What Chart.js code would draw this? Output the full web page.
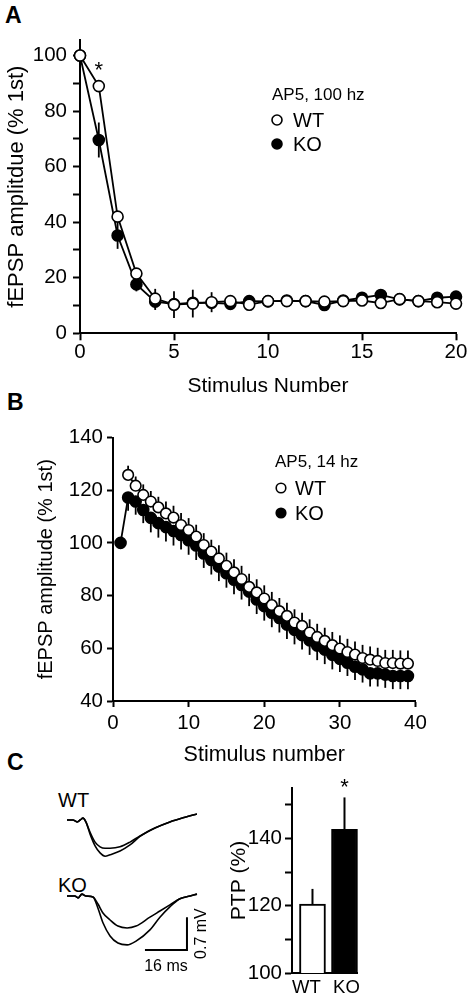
<!DOCTYPE html>
<html>
<head>
<meta charset="utf-8">
<script src="https://cdn.jsdelivr.net/npm/chart.js@4.4.1/dist/chart.umd.min.js"></script>
<style>
  body { margin: 0; background: #fff; width: 474px; height: 1000px; position: relative; overflow: hidden;
         font-family: 'Liberation Sans', Arial, sans-serif; }
  canvas { position: absolute; }
  .tag { position: absolute; font-weight: bold; font-size: 23px; line-height: 1; }
  .trace-lbl { position: absolute; font-size: 20px; line-height: 1; }
</style>
</head>
<body>
<div class="tag" style="left:5px;top:4px">A</div>
<div class="tag" style="left:7px;top:391px">B</div>
<div class="tag" style="left:7px;top:751px">C</div>
<div class="trace-lbl" style="left:58px;top:790px">WT</div>
<div class="trace-lbl" style="left:58px;top:875px">KO</div>

<canvas id="chartA" width="474" height="400" style="left:0;top:0"></canvas>
<canvas id="chartB" width="474" height="375" style="left:0;top:395px"></canvas>
<canvas id="traceWT" width="140" height="65" style="left:62px;top:800px"></canvas>
<canvas id="traceKO" width="155" height="105" style="left:62px;top:875px"></canvas>
<canvas id="chartC" width="140" height="230" style="left:225px;top:770px"></canvas>

<script>
// ---- panel A: AP5, 100 hz ----
const stimA = [0, 1, 2, 3, 4, 5, 6, 7, 8, 9, 10, 11, 12, 13, 14, 15, 16, 17, 18, 19, 20];
const wtA = [100, 89, 42, 21.5, 12.5, 10.3, 10.7, 11.2, 11.6, 10.3, 11.6, 11.6, 11.6, 11.4, 11.6, 11.8, 10.9, 12.3, 11.6, 11.2, 10.7];
const wtErrA = [0, 1.5, 1.5, 2, 3.5, 4.8, 5, 3.6, 2.2, 1.5, 1.5, 1.8, 1.3, 1, 1.3, 1.5, 1.5, 1.5, 1, 1.3, 1.5];
const koA = [100, 69.6, 35.2, 17.6, 11.4, 10.5, 11, 11, 10.6, 11.6, 11.5, 11.8, 11.6, 10.2, 11.8, 12.8, 13.8, 12.2, 11.6, 12.8, 13.2];
const koErrA = [0, 6.3, 4.8, 2.5, 3, 2, 2, 2, 2, 1.5, 1.5, 1.5, 1.5, 1, 1.5, 1.5, 1.5, 1.5, 1, 1.5, 1.5];
const xTicksA = [0, 5, 10, 15, 20];
const yTicksA = [0, 10, 20, 30, 40, 50, 60, 70, 80, 90, 100];
const yLabelsA = [0, 20, 40, 60, 80, 100];

// ---- panel B: AP5, 14 hz ----
const stimKOB = [1, 2, 3, 4, 5, 6, 7, 8, 9, 10, 11, 12, 13, 14, 15, 16, 17, 18, 19, 20,
                 21, 22, 23, 24, 25, 26, 27, 28, 29, 30, 31, 32, 33, 34, 35, 36, 37, 38, 39];
const koB = [100, 117.2, 115.7, 112.5, 109.5, 107.5, 106, 104.5, 103, 101, 99, 96, 93.5, 91, 88.5, 86, 84, 81.5, 78.5, 76,
             73.5, 71.5, 69, 67, 65, 63, 61, 59.5, 57.5, 56, 54.5, 53, 52, 50.5, 50.5, 50, 49.5, 49.5, 49.5];
const koErrB = [0, 5, 5, 5, 5.5, 5.5, 5.5, 5.5, 5.5, 5.5, 5.5, 5.5, 5.5, 5.5, 5.5, 5.5, 5.5, 5.5, 5.5, 5.5,
                5.5, 5.5, 5.5, 5.5, 5.5, 5.5, 5.5, 5.5, 5.5, 5, 5, 5, 5, 5, 5, 5, 5, 5, 5];
const stimWTB = [2, 3, 4, 5, 6, 7, 8, 9, 10, 11, 12, 13, 14, 15, 16, 17, 18, 19, 20,
                 21, 22, 23, 24, 25, 26, 27, 28, 29, 30, 31, 32, 33, 34, 35, 36, 37, 38, 39];
const wtB = [125.8, 121.7, 118.2, 115.7, 113.5, 111.2, 109.6, 106.8, 104.9, 102.4, 99.2, 96.7, 94.1, 91.3, 88.8, 86.3, 83.3, 81.2, 78.9,
             76.4, 74.1, 72.3, 69.8, 68.5, 66, 64.3, 62.8, 61.2, 59.9, 58.6, 57.6, 56.3, 55.7, 55.2, 54.4, 54.4, 54.2, 54.2];
const wtErrB = [3.5, 3.5, 4, 4, 4, 4.5, 4.5, 4.5, 4.5, 4.5, 4.5, 4.5, 5, 5, 5, 5, 5, 5, 5,
                5, 5, 5, 5, 5, 5, 5, 5, 5, 5, 5, 5, 5, 5, 5, 5, 5, 5, 5];
const xTicksB = [0, 10, 20, 30, 40];
const yTicksB = [40, 60, 80, 100, 120, 140];

// ---- panel C: example fEPSP traces (ms, mV) ----
const timeWT = [0, 2.3, 3.8, 5, 6.1, 7.2, 8.8, 10.7, 12.6, 14.5, 16.4, 20.2, 24, 27.8, 33.5, 39.2, 45, 49.5];
const wtTraceSmall = [0, 0, -0.04, 0, 0.04, -0.04, -0.26, -0.47, -0.57, -0.6, -0.6, -0.57, -0.47, -0.34, -0.17, -0.04, 0.06, 0.13];
const wtTraceLarge = [0, 0, -0.04, 0, 0.04, -0.04, -0.3, -0.55, -0.7, -0.77, -0.74, -0.66, -0.53, -0.35, -0.17, -0.04, 0.06, 0.13];
const timeKO = [0, 3, 4.2, 5.7, 7.2, 9.9, 11.8, 13.7, 16.4, 19.4, 22.9, 26.3, 31.6, 35.4, 39.2, 43, 46.9, 49.5];
const koTraceSmall = [0, 0, -0.04, 0.04, 0, -0.02, -0.17, -0.36, -0.51, -0.64, -0.68, -0.64, -0.45, -0.32, -0.19, -0.06, 0, 0.04];
const koTraceLarge = [0, 0, -0.04, 0.04, 0, -0.02, -0.26, -0.57, -0.85, -1.0, -1.04, -0.96, -0.72, -0.45, -0.23, -0.06, 0, 0.04];

// ---- panel C: PTP bars ----
const groupsC = ['WT', 'KO'];
const ptpMean = [120.5, 142.7];
const ptpErr = [4.5, 9.5];
const yTicksC = [100, 110, 120, 130, 140, 150];
const yLabelsC = [100, 120, 140];

const FONT = "'Liberation Sans', Arial, sans-serif";
Chart.defaults.font.family = FONT;
Chart.defaults.color = '#000';
Chart.defaults.animation = false;
Chart.defaults.responsive = false;
Chart.defaults.devicePixelRatio = 1;
Chart.defaults.plugins.legend.display = false;
Chart.defaults.plugins.tooltip.enabled = false;

const pts = (xs, ys) => xs.map((v, i) => ({x: v, y: ys[i]}));
const setTicks = vals => s => { s.ticks = vals.map(v => ({value: v})); };

// vertical error bars, drawn under the markers
const errorBars = {
  id: 'errorBars',
  beforeDatasetsDraw(chart) {
    const {ctx, scales: {x, y}} = chart;
    ctx.save();
    ctx.strokeStyle = '#000';
    chart.data.datasets.forEach(ds => {
      if (!ds.errors) return;
      ctx.lineWidth = ds.errorWidth || 1.8;
      ds.data.forEach((p, i) => {
        const e = ds.errors[i];
        if (!e) return;
        const lo = ds.errorDir === 'up' ? p.y : p.y - e;
        const hi = ds.errorDir === 'down' ? p.y : p.y + e;
        const px = x.getPixelForValue(p.x);
        ctx.beginPath();
        ctx.moveTo(px, y.getPixelForValue(lo));
        ctx.lineTo(px, y.getPixelForValue(hi));
        ctx.stroke();
      });
    });
    ctx.restore();
  }
};

// inset legend + significance stars
const notes = {
  id: 'notes',
  afterDatasetsDraw(chart, args, o) {
    const {ctx, scales: {x, y}} = chart;
    ctx.save();
    ctx.fillStyle = '#000';
    ctx.strokeStyle = '#000';
    ctx.textAlign = 'left';
    ctx.textBaseline = 'middle';
    if (o.legend) {
      const L = o.legend;
      ctx.font = L.titleSize + 'px ' + FONT;
      ctx.fillText(L.title, L.x, L.y);
      L.rows.forEach((r, i) => {
        const cy = L.rowY[i];
        ctx.beginPath();
        ctx.arc(L.dotX, cy, L.r, 0, Math.PI * 2);
        ctx.fillStyle = r.fill;
        ctx.fill();
        ctx.lineWidth = 1.6;
        ctx.stroke();
        ctx.fillStyle = '#000';
        ctx.font = L.rowSize + 'px ' + FONT;
        ctx.fillText(r.text, L.textX, cy + 1);
      });
    }
    (o.stars || []).forEach(s => {
      ctx.font = '22px ' + FONT;
      ctx.textAlign = 'center';
      ctx.textBaseline = 'alphabetic';
      ctx.fillText('*', x.getPixelForValue(s.x), y.getPixelForValue(s.y) + s.dy);
    });
    ctx.restore();
  }
};

// L-shaped calibration bar for the traces
const scaleBar = {
  id: 'scaleBar',
  afterDatasetsDraw(chart, args, o) {
    if (!o.ms) return;
    const {ctx, scales: {x, y}} = chart;
    const x1 = x.getPixelForValue(o.t), x0 = x.getPixelForValue(o.t - o.ms);
    const y0 = y.getPixelForValue(o.v), y1 = y.getPixelForValue(o.v + o.mv);
    ctx.save();
    ctx.strokeStyle = '#000';
    ctx.lineWidth = 2;
    ctx.beginPath();
    ctx.moveTo(x0, y0);
    ctx.lineTo(x1, y0);
    ctx.lineTo(x1, y1);
    ctx.stroke();
    ctx.fillStyle = '#000';
    ctx.font = '16px ' + FONT;
    ctx.textAlign = 'center';
    ctx.textBaseline = 'middle';
    ctx.fillText(o.ms + ' ms', (x0 + x1) / 2, y0 + 17);
    ctx.translate(x1 + 15, (y0 + y1) / 2);
    ctx.rotate(-Math.PI / 2);
    ctx.fillText(o.mv + ' mV', 0, 0);
    ctx.restore();
  }
};

const axisBorder = {display: true, color: '#000', width: 2};
const markGrid = len => ({drawOnChartArea: false, drawTicks: true, tickLength: len, tickWidth: 2, tickColor: '#000'});

// ---------- A ----------
new Chart(document.getElementById('chartA'), {
  type: 'line',
  data: {
    datasets: [
      { label: 'WT', data: pts(stimA, wtA), errors: wtErrA, errorDir: 'both',
        borderColor: '#000', borderWidth: 1.8, pointRadius: 5.5, pointBorderWidth: 1.6,
        pointBackgroundColor: '#fff', pointBorderColor: '#000', clip: false },
      { label: 'KO', data: pts(stimA, koA), errors: koErrA, errorDir: 'both',
        borderColor: '#000', borderWidth: 1.8, pointRadius: 5.5, pointBorderWidth: 1.6,
        pointBackgroundColor: '#000', pointBorderColor: '#000', clip: false }
    ]
  },
  options: {
    layout: { padding: {left: 0, right: 18, top: 40, bottom: 0} },
    scales: {
      x: { type: 'linear', min: 0, max: 20, afterBuildTicks: setTicks(xTicksA),
           afterFit: s => { s.height = 66.7; },
           grid: markGrid(7), border: axisBorder,
           ticks: {font: {size: 20.5}, padding: 0, maxRotation: 0},
           title: {display: true, text: 'Stimulus Number', font: {size: 21}, padding: {top: 0, bottom: 1}} },
      y: { min: 0, max: 105.6, afterBuildTicks: setTicks(yTicksA),
           afterFit: s => { s.width = 80; },
           grid: markGrid(7), border: axisBorder,
           ticks: {font: {size: 20.5}, padding: 6, callback: v => yLabelsA.includes(v) ? v : ''},
           title: {display: true, text: 'fEPSP amplitdue (% 1st)', font: {size: 22}, padding: {top: 4, bottom: 0}} }
    },
    plugins: {
      notes: {
        legend: { title: 'AP5, 100 hz', titleSize: 17, x: 272, y: 95, rowSize: 20,
                  dotX: 277, textX: 293, r: 5, rowY: [120, 144],
                  rows: [{text: 'WT', fill: '#fff'}, {text: 'KO', fill: '#000'}] },
        stars: [{x: 1, y: wtA[1], dy: -9}]
      }
    }
  },
  plugins: [errorBars, notes]
});

// ---------- B ----------
new Chart(document.getElementById('chartB'), {
  type: 'line',
  data: {
    datasets: [
      { label: 'WT', data: pts(stimWTB, wtB), errors: wtErrB, errorDir: 'up',
        borderColor: '#000', borderWidth: 1.8, pointRadius: 5.3, pointBorderWidth: 1.6,
        pointBackgroundColor: '#fff', pointBorderColor: '#000', clip: false },
      { label: 'KO', data: pts(stimKOB, koB), errors: koErrB, errorDir: 'down',
        borderColor: '#000', borderWidth: 1.8, pointRadius: 5.5, pointBorderWidth: 1.6,
        pointBackgroundColor: '#000', pointBorderColor: '#000', clip: false }
    ]
  },
  options: {
    layout: { padding: {left: 0, right: 58.5, top: 42.5, bottom: 0} },
    scales: {
      x: { type: 'linear', min: 0, max: 40, afterBuildTicks: setTicks(xTicksB),
           afterFit: s => { s.height = 69; },
           grid: markGrid(6), border: axisBorder,
           ticks: {font: {size: 20.5}, padding: 4, maxRotation: 0},
           title: {display: true, text: 'Stimulus number', font: {size: 21.5}, padding: {top: 0, bottom: 2}} },
      y: { min: 40, max: 140, afterBuildTicks: setTicks(yTicksB),
           afterFit: s => { s.width = 113; },
           grid: markGrid(6), border: axisBorder,
           ticks: {font: {size: 20.5}, padding: 4},
           title: {display: true, text: 'fEPSP amplitude (% 1st)', font: {size: 20}, padding: {top: 34, bottom: 0}} }
    },
    plugins: {
      notes: {
        legend: { title: 'AP5, 14 hz', titleSize: 17, x: 275, y: 67, rowSize: 20,
                  dotX: 281, textX: 295, r: 4.8, rowY: [93, 118],
                  rows: [{text: 'WT', fill: '#fff'}, {text: 'KO', fill: '#000'}] }
      }
    }
  },
  plugins: [errorBars, notes]
});

// ---------- C: traces ----------
const traceOpts = (ymin, ymax, xmax, bar) => ({
  layout: { padding: 0 },
  scales: {
    x: { type: 'linear', display: false, min: -1.9, max: xmax },
    y: { display: false, min: ymin, max: ymax }
  },
  plugins: { scaleBar: bar || {} }
});
const traceSet = (xs, ys) => ({ data: pts(xs, ys), borderColor: '#000', borderWidth: 1.6,
  pointRadius: 0, cubicInterpolationMode: 'monotone', clip: false });

new Chart(document.getElementById('traceWT'), {
  type: 'line',
  data: { datasets: [traceSet(timeWT, wtTraceSmall), traceSet(timeWT, wtTraceLarge)] },
  options: traceOpts(-0.957, 0.426, 51.43)
});

new Chart(document.getElementById('traceKO'), {
  type: 'line',
  data: { datasets: [traceSet(timeKO, koTraceSmall), traceSet(timeKO, koTraceLarge)] },
  options: traceOpts(-1.787, 0.447, 57.14, {t: 45.7, v: -1.15, ms: 16, mv: 0.7}),
  plugins: [scaleBar]
});

// ---------- C: PTP bars ----------
new Chart(document.getElementById('chartC'), {
  type: 'bar',
  data: {
    datasets: [{
      data: pts([0, 1], ptpMean), errors: ptpErr, errorDir: 'up', errorWidth: 2,
      backgroundColor: ['#fff', '#000'], borderColor: '#000', borderWidth: 2,
      borderSkipped: false, barThickness: 26
    }]
  },
  options: {
    layout: { padding: {left: 0, right: 7, top: 18, bottom: 0} },
    scales: {
      // group labels sit slightly outside the bar centres, as in the figure
      x: { type: 'linear', min: -0.64, max: 1.42, offset: false, afterBuildTicks: setTicks([-0.19, 1.06]),
           afterFit: s => { s.height = 27; },
           grid: {display: true, drawOnChartArea: false, drawTicks: false, offset: false},
           border: axisBorder,
           ticks: {font: {size: 18.5}, padding: 4, maxRotation: 0, callback: (v, i) => groupsC[i]} },
      y: { min: 100, max: 155, afterBuildTicks: setTicks(yTicksC),
           afterFit: s => { s.width = 67; },
           grid: markGrid(7), border: axisBorder,
           ticks: {font: {size: 20.5}, padding: 3, callback: v => yLabelsC.includes(v) ? v : ''},
           title: {display: true, text: 'PTP (%)', font: {size: 21}, padding: {top: 2, bottom: 0}} }
    },
    plugins: {
      notes: { stars: [{x: 1, y: ptpMean[1] + ptpErr[1], dy: -3}] }
    }
  },
  plugins: [errorBars, notes]
});
</script>
</body>
</html>
